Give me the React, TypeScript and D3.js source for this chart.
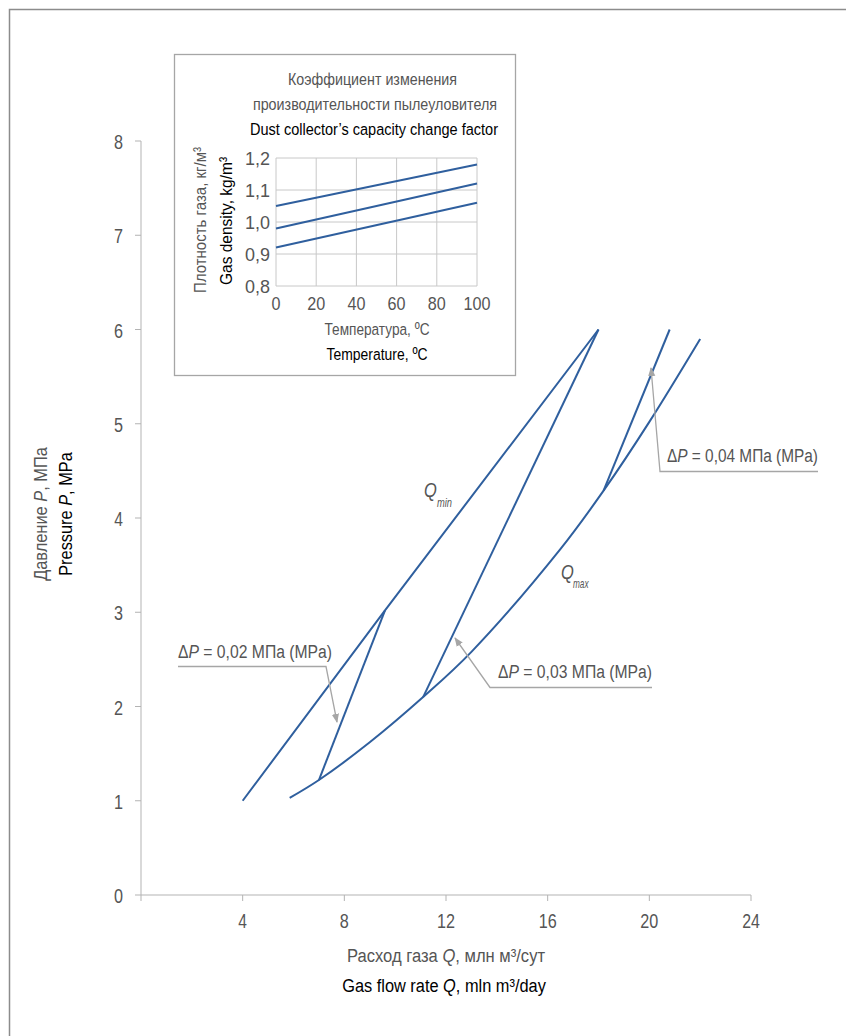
import React, { useLayoutEffect, useRef, useState } from "react";
import * as d3 from "d3";

// main chart: gas flow rate Q (mln m3/day) vs pressure P (MPa)
const qminQ = [4.0, 9.6, 18.0];
const qminP = [1.0, 3.02, 6.0];

const qmaxQ = [5.85, 7.0, 9.0, 11.1, 13.0, 16.5, 18.2, 20.0, 22.0];
const qmaxP = [1.03, 1.22, 1.62, 2.1, 2.58, 3.67, 4.29, 5.02, 5.9];

const dp02Q = [7.0, 9.6];
const dp02P = [1.22, 3.02];
const dp03Q = [11.1, 18.0];
const dp03P = [2.1, 6.0];
const dp04Q = [18.2, 20.8];
const dp04P = [4.29, 6.0];

const xTicks = [0, 4, 8, 12, 16, 20, 24];
const yTicks = [0, 1, 2, 3, 4, 5, 6, 7, 8];

// inset: gas density vs temperature
const insetT = [0, 100];
const densityA = [1.05, 1.18];
const densityB = [0.98, 1.12];
const densityC = [0.92, 1.06];
const insetXTicks = [0, 20, 40, 60, 80, 100];
const insetYTicks = [0.8, 0.9, 1.0, 1.1, 1.2];

const FONT = "'Liberation Sans Narrow', 'Liberation Sans', Arial, sans-serif";
const BLUE = "#2f5f9e";
const GRAY_TXT = "#555";
const AXIS = "#b3b3b3";
const ARROW = "#a6a6a6";

const toPts = (xs: number[], ys: number[]) => xs.map((x, i) => [x, ys[i]] as [number, number]);
const fmt = (v: number) => v.toFixed(1).replace(".", ",");

// text squeezed horizontally to a given width (the original uses a condensed face)
function Narrow({ x, y, w, size, fill = GRAY_TXT, anchor = "start", rot = false, italic = false, children }: any) {
  const ref = useRef<SVGTextElement>(null);
  const [k, setK] = useState(0.8);
  useLayoutEffect(() => {
    if (!ref.current) return;
    const nat = ref.current.getBBox().width;
    if (nat > 0) setK(w / nat);
  }, [w, children]);
  return (
    <g transform={`translate(${x},${y})${rot ? " rotate(-90)" : ""} scale(${k},1)`}>
      <text ref={ref} textAnchor={anchor} fontSize={size} fill={fill} fontStyle={italic ? "italic" : undefined}>
        {children}
      </text>
    </g>
  );
}

export default function App() {
  const x = d3.scaleLinear().domain([0, 24]).range([141, 751]);
  const y = d3.scaleLinear().domain([0, 8]).range([895, 141]);

  const straight = d3.line<[number, number]>().x((d) => x(d[0])).y((d) => y(d[1]));
  const smooth = d3
    .line<[number, number]>()
    .x((d) => x(d[0]))
    .y((d) => y(d[1]))
    .curve(d3.curveCatmullRom);

  const ix = d3.scaleLinear().domain([0, 100]).range([276, 477]);
  const iy = d3.scaleLinear().domain([0.8, 1.2]).range([286, 158]);
  const iline = d3.line<[number, number]>().x((d) => ix(d[0])).y((d) => iy(d[1]));

  const lines = [
    straight(toPts(qminQ, qminP)),
    smooth(toPts(qmaxQ, qmaxP)),
    straight(toPts(dp02Q, dp02P)),
    straight(toPts(dp03Q, dp03P)),
    straight(toPts(dp04Q, dp04P)),
  ];

  return (
    <svg
      width={846}
      height={1036}
      style={{ position: "absolute", left: 0, top: 0, background: "#fff" }}
      fontFamily={FONT}
    >
      <defs>
        <marker id="arr" viewBox="0 0 10 10" refX="9" refY="5" markerWidth="7" markerHeight="7" orient="auto">
          <path d="M0,1 L10,5 L0,9 Z" fill={ARROW} />
        </marker>
      </defs>
      {/* frame */}
      <path d="M9.5,1036 V9.5 H846" fill="none" stroke="#8c8c8c" strokeWidth={1.5} />

      {/* axes */}
      <line x1={x(0)} x2={x(24)} y1={y(0)} y2={y(0)} stroke={AXIS} />
      <line x1={x(0)} x2={x(0)} y1={y(0)} y2={y(8)} stroke={AXIS} />
      {xTicks.map((t) => (
        <g key={"x" + t}>
          <line x1={x(t)} x2={x(t)} y1={y(0)} y2={y(0) + 6} stroke={AXIS} />
          {t > 0 && (
            <Narrow x={x(t)} y={928} w={String(t).length * 9} size={21} anchor="middle">
              {t}
            </Narrow>
          )}
        </g>
      ))}
      {yTicks.map((t) => (
        <g key={"y" + t}>
          <line x1={x(0) - 6} x2={x(0)} y1={y(t)} y2={y(t)} stroke={AXIS} />
          <Narrow x={123} y={y(t) + 8} w={9} size={21} anchor="end">
            {t}
          </Narrow>
        </g>
      ))}

      {/* axis titles */}
      <Narrow x={47} y={514} w={134} size={19} anchor="middle" rot>
        Давление <tspan fontStyle="italic">P</tspan>, МПа
      </Narrow>
      <Narrow x={72} y={514} w={124} size={19} anchor="middle" rot fill="#000">
        Pressure <tspan fontStyle="italic">P</tspan>, MPa
      </Narrow>
      <Narrow x={446} y={962} w={198} size={19} anchor="middle">
        Расход газа <tspan fontStyle="italic">Q</tspan>, млн м³/сут
      </Narrow>
      <Narrow x={444} y={992} w={204} size={19} anchor="middle" fill="#000">
        Gas flow rate <tspan fontStyle="italic">Q</tspan>, mln m³/day
      </Narrow>

      {/* curves */}
      {lines.map((d, i) => (
        <path key={i} d={d || ""} fill="none" stroke={BLUE} strokeWidth={2} />
      ))}

      {/* curve labels */}
      <Narrow x={424} y={497} w={13} size={21} italic>Q</Narrow>
      <Narrow x={437} y={507} w={15} size={12} italic>min</Narrow>
      <Narrow x={561} y={579} w={13} size={21} italic>Q</Narrow>
      <Narrow x={573} y={588} w={16} size={12} italic>max</Narrow>

      {/* annotations */}
      <Narrow x={178} y={658} w={154} size={19}>
        Δ<tspan fontStyle="italic">P</tspan> = 0,02 МПа (MPa)
      </Narrow>
      <path d="M178,666.5 H326 L337,722" fill="none" stroke={ARROW} strokeWidth={1.3} markerEnd="url(#arr)" />
      <Narrow x={498} y={678} w={154} size={19}>
        Δ<tspan fontStyle="italic">P</tspan> = 0,03 МПа (MPa)
      </Narrow>
      <path d="M652,687.5 H490 L455,638" fill="none" stroke={ARROW} strokeWidth={1.3} markerEnd="url(#arr)" />
      <Narrow x={667} y={462} w={151} size={19}>
        Δ<tspan fontStyle="italic">P</tspan> = 0,04 МПа (MPa)
      </Narrow>
      <path d="M818,471.5 H660 L651,368" fill="none" stroke={ARROW} strokeWidth={1.3} markerEnd="url(#arr)" />

      {/* inset */}
      <rect x={174.5} y={54.5} width={341} height={321} fill="#fff" stroke={ARROW} strokeWidth={1.3} />
      <Narrow x={372.5} y={85} w={169} size={17} anchor="middle">
        Коэффициент изменения
      </Narrow>
      <Narrow x={375} y={110} w={244} size={17} anchor="middle">
        производительности пылеуловителя
      </Narrow>
      <Narrow x={374} y={135} w={248} size={17} anchor="middle" fill="#000">
        Dust collector’s capacity change factor
      </Narrow>
      {insetXTicks.map((t) => (
        <g key={"ix" + t}>
          <line x1={ix(t)} x2={ix(t)} y1={iy(0.8)} y2={iy(1.2)} stroke="#c8c8c8" />
          <Narrow x={ix(t)} y={iy(0.8) + 24} w={String(t).length * 9} size={18} anchor="middle">
            {t}
          </Narrow>
        </g>
      ))}
      {insetYTicks.map((t) => (
        <g key={"iy" + t}>
          <line x1={ix(0)} x2={ix(100)} y1={iy(t)} y2={iy(t)} stroke="#c8c8c8" />
          <Narrow x={270} y={iy(t) + 7} w={25} size={18} anchor="end">
            {fmt(t)}
          </Narrow>
        </g>
      ))}
      {[densityA, densityB, densityC].map((ds, i) => (
        <path key={"d" + i} d={iline(toPts(insetT, ds)) || ""} fill="none" stroke={BLUE} strokeWidth={2} />
      ))}
      <Narrow x={377} y={335} w={105} size={17} anchor="middle">
        Температура, ºC
      </Narrow>
      <Narrow x={377} y={360} w={101} size={17} anchor="middle" fill="#000">
        Temperature, ºC
      </Narrow>
      <Narrow x={206} y={220} w={146} size={17} anchor="middle" rot>
        Плотность газа, кг/м³
      </Narrow>
      <Narrow x={232} y={221} w={128} size={17} anchor="middle" rot fill="#000">
        Gas density, kg/m³
      </Narrow>
    </svg>
  );
}
